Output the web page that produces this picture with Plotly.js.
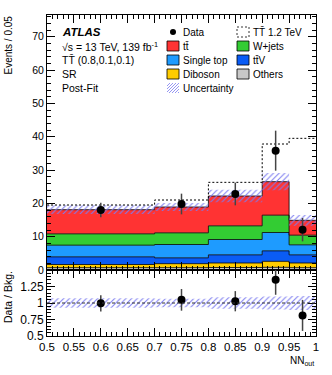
<!DOCTYPE html>
<html>
<head>
<meta charset="utf-8">
<script src="https://cdn.plot.ly/plotly-3.0.1.min.js"></script>
<style>
  html, body { margin: 0; padding: 0; background: #fff; }
  #chart { width: 332px; height: 375px; }
</style>
</head>
<body>
<div id="chart"></div>
<script>
// NN_out bins and yields (events / 0.05)
const binEdges = [0.5, 0.7, 0.8, 0.9, 0.95, 1.0];
const binCenters = [0.6, 0.75, 0.85, 0.925, 0.975];

// background components, bottom of the stack first
const others = [0.7, 0.7, 0.75, 0.8, 0.7];
const diboson = [0.95, 1.2, 1.35, 1.8, 1.4];
const ttV = [2.3, 1.75, 2.45, 3.15, 2.45];
const singleTop = [3.5, 4.0, 4.6, 5.5, 3.0];
const wjets = [3.4, 3.5, 4.1, 5.2, 2.9];
const ttbar = [7.25, 7.75, 8.95, 10.05, 4.45];

const bkgUnc = [1.3, 1.2, 1.9, 2.6, 1.6];
const signalTT = [1.4, 2.1, 4.1, 11.3, 24.6];   // TT 1.2 TeV, drawn on top of the stack
const dataY = [18.0, 19.8, 22.8, 35.8, 12.1];
const dataErr = [2.2, 3.1, 3.4, 6.0, 3.5];

const FONT = "Liberation Sans, Arial, sans-serif";
const hatchColor = "#7b7bf0";

// plot box in pixels, used to place the text and legend
const L = 47, R = 316, T = 15, B = 336, SPLIT = 270;
const px = x => (x - L) / (R - L);
const py = y => (B - y) / (B - T);

// repeat last value so an "hv" line covers the last bin
const step = arr => arr.concat([arr[arr.length - 1]]);

const layers = [
  { name: "Others", vals: others, color: "#c8c8c8" },
  { name: "Diboson", vals: diboson, color: "#ffcc00" },
  { name: "ttV", vals: ttV, color: "#0a5cf5" },
  { name: "Single top", vals: singleTop, color: "#1e9bff" },
  { name: "W+jets", vals: wjets, color: "#33cc33" },
  { name: "ttbar", vals: ttbar, color: "#ff3333" }
];

const traces = [];
let cum = [0, 0, 0, 0, 0];
layers.forEach((layer, i) => {
  cum = cum.map((c, j) => c + layer.vals[j]);
  traces.push({
    type: "scatter", mode: "lines",
    x: binEdges, y: step(cum),
    line: { shape: "hv", color: "#000", width: 0.8 },
    fill: i === 0 ? "tozeroy" : "tonexty",
    fillcolor: layer.color,
    xaxis: "x", yaxis: "y", hoverinfo: "skip"
  });
});
const bkgTotal = cum.slice();

// uncertainty band on the total background
traces.push({
  type: "scatter", mode: "lines",
  x: binEdges, y: step(bkgTotal.map((b, j) => b - bkgUnc[j])),
  line: { shape: "hv", width: 0, color: "rgba(0,0,0,0)" },
  xaxis: "x", yaxis: "y", hoverinfo: "skip"
});
traces.push({
  type: "scatter", mode: "lines",
  x: binEdges, y: step(bkgTotal.map((b, j) => b + bkgUnc[j])),
  line: { shape: "hv", width: 0, color: "rgba(0,0,0,0)" },
  fill: "tonexty", fillcolor: "rgba(0,0,0,0)",
  fillpattern: { shape: "/", fgcolor: hatchColor, bgcolor: "rgba(0,0,0,0)", size: 4, solidity: 0.25 },
  xaxis: "x", yaxis: "y", hoverinfo: "skip"
});

// signal stacked on the background
traces.push({
  type: "scatter", mode: "lines",
  x: binEdges, y: step(bkgTotal.map((b, j) => b + signalTT[j])),
  line: { shape: "hv", color: "#000", width: 1, dash: "2px,2px" },
  xaxis: "x", yaxis: "y", hoverinfo: "skip"
});

// data
traces.push({
  type: "scatter", mode: "markers",
  x: binCenters, y: dataY,
  marker: { color: "#000", size: 8 },
  error_y: { type: "data", array: dataErr, width: 0, thickness: 1.5, color: "#444" },
  xaxis: "x", yaxis: "y"
});

// ratio panel
const ratioY = dataY.map((d, j) => d / bkgTotal[j]);
const ratioErr = dataErr.map((e, j) => e / bkgTotal[j]);
traces.push({
  type: "scatter", mode: "lines",
  x: binEdges, y: step(bkgUnc.map((u, j) => 1 - u / bkgTotal[j])),
  line: { shape: "hv", width: 0, color: "rgba(0,0,0,0)" },
  xaxis: "x2", yaxis: "y2", hoverinfo: "skip"
});
traces.push({
  type: "scatter", mode: "lines",
  x: binEdges, y: step(bkgUnc.map((u, j) => 1 + u / bkgTotal[j])),
  line: { shape: "hv", width: 0, color: "rgba(0,0,0,0)" },
  fill: "tonexty", fillcolor: "rgba(0,0,0,0)",
  fillpattern: { shape: "/", fgcolor: hatchColor, bgcolor: "rgba(0,0,0,0)", size: 4, solidity: 0.25 },
  xaxis: "x2", yaxis: "y2", hoverinfo: "skip"
});
traces.push({
  type: "scatter", mode: "markers",
  x: binCenters, y: ratioY,
  marker: { color: "#000", size: 8 },
  error_y: { type: "data", array: ratioErr, width: 0, thickness: 1.5, color: "#444" },
  xaxis: "x2", yaxis: "y2", cliponaxis: true
});

// ---- legend drawn by hand (two columns, tight rows like ROOT) ----
const rows = [32, 46, 60, 74, 88];
const col1 = 167, col2 = 237, boxW = 12, boxH = 10;
const shapes = [];
const annotations = [];

function box(x0, yc, color, dash) {
  shapes.push({
    type: "rect", xref: "paper", yref: "paper",
    x0: px(x0), x1: px(x0 + boxW), y0: py(yc + boxH / 2), y1: py(yc - boxH / 2),
    fillcolor: color || "rgba(0,0,0,0)",
    line: { color: "#000", width: 0.8, dash: dash || "solid" }
  });
}
function label(x, yc, text, size) {
  annotations.push({
    xref: "paper", yref: "paper", x: px(x), y: py(yc),
    xanchor: "left", yanchor: "middle", showarrow: false,
    text: text, font: { family: FONT, size: size || 10, color: "#000" }
  });
}

// data marker
shapes.push({
  type: "circle", xref: "paper", yref: "paper",
  x0: px(col1 + 3), x1: px(col1 + 9), y0: py(rows[0] + 3), y1: py(rows[0] - 3),
  fillcolor: "#000", line: { color: "#000", width: 0 }
});
label(col1 + 14, rows[0], "Data");
box(col2, rows[0], null, "2px,2px");
label(col2 + 14, rows[0], "TT\u0304 1.2 TeV");

box(col1, rows[1], "#ff3333"); label(col1 + 14, rows[1], "tt\u0304");
box(col2, rows[1], "#33cc33"); label(col2 + 14, rows[1], "W+jets");
box(col1, rows[2], "#1e9bff"); label(col1 + 14, rows[2], "Single top");
box(col2, rows[2], "#0a5cf5"); label(col2 + 14, rows[2], "tt\u0304V");
box(col1, rows[3], "#ffcc00"); label(col1 + 14, rows[3], "Diboson");
box(col2, rows[3], "#c8c8c8"); label(col2 + 14, rows[3], "Others");

// hatched legend swatch for the uncertainty
(function () {
  const x0 = col1, y1 = rows[4] + boxH / 2;
  let path = "";
  for (let d = -boxH; d <= boxW; d += 3) {
    const u0 = Math.max(0, d), u1 = Math.min(boxW, boxH + d);
    if (u1 <= u0) continue;
    path += "M" + px(x0 + u0) + "," + py(y1 - (u0 - d)) +
            "L" + px(x0 + u1) + "," + py(y1 - (u1 - d));
  }
  shapes.push({ type: "path", xref: "paper", yref: "paper", path: path,
    line: { color: hatchColor, width: 0.8 } });
})();
label(col1 + 14, rows[4], "Uncertainty");

// ATLAS block
label(60, rows[0], "<b><i>ATLAS</i></b>", 11.5);
label(60, rows[1], "\u221As = 13 TeV, 139 fb<sup>-1</sup>", 10.5);
label(60, rows[2], "TT\u0304 (0.8,0.1,0.1)", 10.5);
label(60, rows[3], "SR", 10.5);
label(60, rows[4], "Post-Fit", 10.5);

// axis titles
annotations.push({
  xref: "paper", yref: "paper", x: px(8), y: py(14),
  xanchor: "center", yanchor: "top", textangle: -90, showarrow: false,
  text: "Events / 0.05", font: { family: FONT, size: 10, color: "#000" }
});
annotations.push({
  xref: "paper", yref: "paper", x: px(8), y: py(297),
  xanchor: "center", yanchor: "middle", textangle: -90, showarrow: false,
  text: "Data / Bkg.", font: { family: FONT, size: 10.5, color: "#000" }
});
annotations.push({
  xref: "paper", yref: "paper", x: px(316), y: py(361),
  xanchor: "right", yanchor: "middle", showarrow: false,
  text: "NN<sub>out</sub>", font: { family: FONT, size: 10, color: "#000" }
});

// dashed line at 1 in the ratio
shapes.push({
  type: "line", xref: "x2", yref: "y2", x0: 0.5, x1: 1.0, y0: 1, y1: 1,
  line: { color: "#333", width: 1, dash: "3px,2px" }
});

const frame = {
  showline: true, linecolor: "#000", linewidth: 1, mirror: "allticks",
  ticks: "inside", ticklen: 8, tickcolor: "#000", tickwidth: 1,
  showgrid: false, zeroline: false
};

const layout = {
  width: 332, height: 375,
  margin: { l: L, r: 332 - R, t: T, b: 375 - B, pad: 0 },
  paper_bgcolor: "#fff", plot_bgcolor: "#fff",
  showlegend: false,
  font: { family: FONT, size: 10, color: "#000" },
  xaxis: Object.assign({}, frame, {
    domain: [0, 1], anchor: "y", range: [0.5, 1.0],
    tick0: 0.5, dtick: 0.05, showticklabels: false,
    minor: { dtick: 0.01, ticklen: 4, ticks: "inside", tickcolor: "#000" }
  }),
  yaxis: Object.assign({}, frame, {
    domain: [py(SPLIT), 1], anchor: "x", range: [0, 76.5],
    tick0: 0, dtick: 10, tickfont: { family: FONT, size: 10.5 },
    minor: { dtick: 2, ticklen: 4, ticks: "inside", tickcolor: "#000" }
  }),
  xaxis2: Object.assign({}, frame, {
    domain: [0, 1], anchor: "y2", range: [0.5, 1.0],
    tick0: 0.5, dtick: 0.05, tickfont: { family: FONT, size: 11.5 },
    minor: { dtick: 0.01, ticklen: 4, ticks: "inside", tickcolor: "#000" }
  }),
  yaxis2: Object.assign({}, frame, {
    domain: [0, py(SPLIT)], anchor: "x2", range: [0.5, 1.5],
    tickvals: [0.5, 0.75, 1, 1.25], ticktext: ["0.5", "0.75", "1", "1.25"],
    tickfont: { family: FONT, size: 12 },
    minor: { dtick: 0.05, ticklen: 4, ticks: "inside", tickcolor: "#000" }
  }),
  shapes: shapes,
  annotations: annotations
};

Plotly.newPlot("chart", traces, layout, { displayModeBar: false, staticPlot: true });
</script>
</body>
</html>
